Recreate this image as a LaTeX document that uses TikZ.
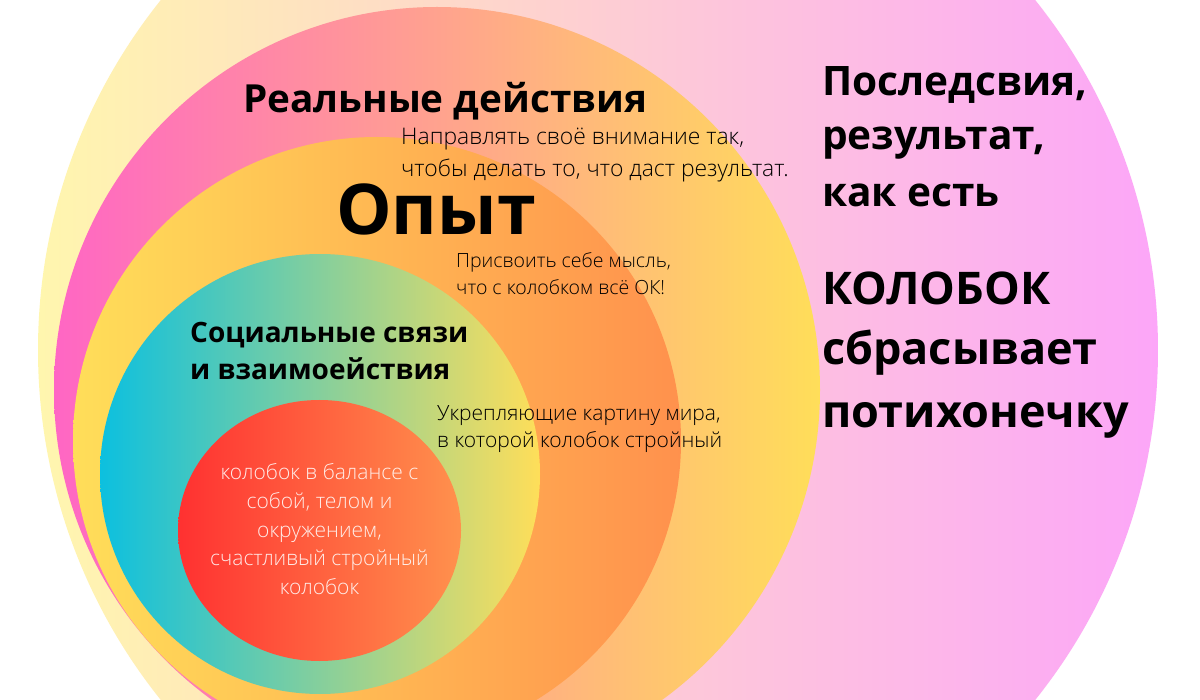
\documentclass[tikz,border=0pt]{standalone}
\usepackage{fontspec}
\setmainfont{Open Sans}
\IfFontExistsTF{Open Sans Light}{\newfontfamily\lightfont{Open Sans Light}}{\newfontfamily\lightfont{Open Sans}}
\definecolor{outerL}{HTML}{FFF6AE}
\definecolor{outerR}{HTML}{FCA6F8}
\definecolor{pinkL}{HTML}{FF66C4}
\definecolor{yelR}{HTML}{FFDE59}
\definecolor{orgR}{HTML}{FF914D}
\definecolor{cyanL}{HTML}{0CC0DF}
\definecolor{redL}{HTML}{FF3131}
\tikzset{
  bigtitle/.style={font=\bfseries\fontsize{38.7}{44}\selectfont, anchor=base west, inner sep=0pt},
  hugetitle/.style={font=\bfseries\fontsize{70}{80}\selectfont, anchor=base west, inner sep=0pt},
  midtitle/.style={font=\bfseries\fontsize{28}{32}\selectfont, anchor=base west, inner sep=0pt},
  sidetitle/.style={font=\bfseries\fontsize{40.6}{46}\selectfont, anchor=base west, inner sep=0pt},
  sidebig/.style={font=\bfseries\fontsize{45}{50}\selectfont, anchor=base west, inner sep=0pt},
  note/.style={font=\lightfont\fontsize{21}{25}\selectfont, anchor=base west, inner sep=0pt, text=black},
  notewide/.style={note, font=\lightfont\fontsize{22.9}{27}\selectfont},
  notesmall/.style={note, font=\lightfont\fontsize{19.5}{23}\selectfont},
  corenote/.style={font=\lightfont\fontsize{21}{25}\selectfont, anchor=base, inner sep=0pt, text=white, text opacity=0.88}
}
\begin{document}
\begin{tikzpicture}[x=1pt,y=-1pt]
\useasboundingbox (0,0) rectangle (1200,700);
\fill[white] (0,0) rectangle (1200,700);
\begin{scope}
\clip (0,0) rectangle (1200,700);
\coordinate (c1) at (598,350);
\coordinate (c2) at (437,390);
\coordinate (c3) at (377,441);
\coordinate (c4) at (320,474);
\coordinate (c5) at (319.5,530.5);
\shade[left color=outerL, right color=outerR] (c1) circle (560pt);
\shade[left color=pinkL, right color=yelR] (c2) circle (383pt);
\shade[left color=yelR, right color=orgR] (c3) circle (304pt);
\shade[left color=cyanL, right color=yelR] (c4) circle (220pt);
\shade[left color=redL, right color=orgR] (c5) ellipse [x radius=141.5pt, y radius=130.5pt];
\end{scope}

\node[bigtitle] (t1) at (243,113) {Реальные действия};
\node[notewide] (t2a) at (401,145) {Направлять своё внимание так,};
\node[notewide] (t2b) at (401,177) {чтобы делать то, что даст результат.};
\node[hugetitle] (t3) at (336,235) {Опыт};
\node[notesmall] (t4a) at (456,268) {Присвоить себе мысль,};
\node[notesmall] (t4b) at (456,295) {что с колобком всё ОК!};
\node[midtitle] (t5a) at (190,343) {Социальные связи};
\node[midtitle] (t5b) at (190,380) {и взаимоействия};
\node[note] (t6a) at (437,421) {Укрепляющие картину мира,};
\node[note] (t6b) at (437,448) {в которой колобок стройный};
\node[corenote] (k1) at (319.5,479) {колобок в балансе с};
\node[corenote] (k2) at (319.5,508) {собой, телом и};
\node[corenote] (k3) at (319.5,537) {окружением,};
\node[corenote] (k4) at (319.5,565) {счастливый стройный};
\node[corenote] (k5) at (319.5,594) {колобок};
\node[sidetitle] (r1) at (822,96) {Последсвия,};
\node[sidetitle] (r2) at (822,150) {результат,};
\node[sidetitle] (r3) at (822,207) {как есть};
\node[sidebig] (r4) at (822,305) {КОЛОБОК};
\node[sidebig] (r5) at (822,365) {сбрасывает};
\node[sidebig] (r6) at (822,428) {потихонечку};
\end{tikzpicture}
\end{document}
